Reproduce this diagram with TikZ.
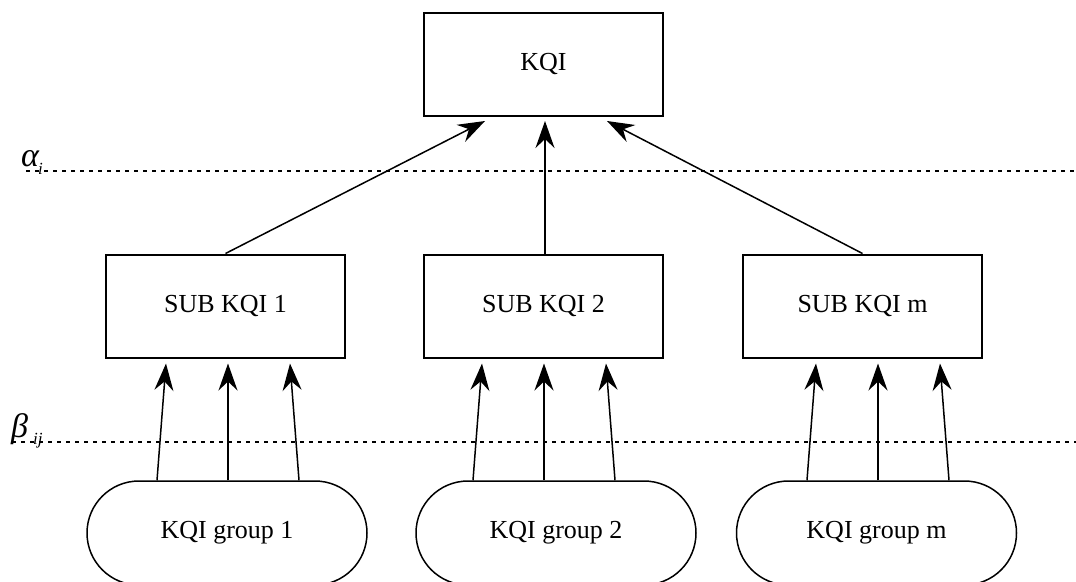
\documentclass[tikz,border=0pt]{standalone}
\usepackage{fontspec}
\setmainfont{Liberation Serif}
\usetikzlibrary{arrows.meta,shapes.misc,calc}

\begin{document}
\begin{tikzpicture}[x=1pt,y=-1pt,
  box/.style={draw,line width=2pt,minimum width=239pt,minimum height=103pt,
    inner sep=0pt,font=\fontsize{26}{30}\selectfont},
  group/.style={draw,line width=1.5pt,rounded rectangle,minimum width=280pt,
    minimum height=104pt,inner sep=0pt,font=\fontsize{26}{30}\selectfont},
  link/.style={line width=1.5pt,-{Stealth[length=27pt,width=19pt,inset=9pt]}},
  level/.style={line width=1.3pt,dash pattern=on 4pt off 5pt}]
  \useasboundingbox (0,0) rectangle (1076,581);

  % levels
  \draw[level] (26,171) -- (1076,171);
  \draw[level] (12,442) -- (1076,442);
  \node[anchor=base west,inner sep=0pt] (alpha) at (21,166)
    {\fontsize{34}{34}\selectfont\textit{α}};
  \node[anchor=base west,inner sep=0pt] (alphai) at (38,174)
    {\fontsize{17}{17}\selectfont\textit{i}};
  \node[anchor=base west,inner sep=0pt] (beta) at (11,437)
    {\fontsize{34}{34}\selectfont\textit{β}};
  \node[anchor=base west,inner sep=0pt] (betaij) at (33,444)
    {\fontsize{17}{17}\selectfont\textit{ij}};

  % boxes
  \node[box] (k)  at (543.5,64)  {KQI};
  \node[box] (s1) at (225.5,306) {SUB KQI 1};
  \node[box] (s2) at (543.5,306) {SUB KQI 2};
  \node[box] (s3) at (862.5,306) {SUB KQI m};

  % groups
  \node[group] (g1) at (227,533) {KQI group 1};
  \node[group] (g2) at (556,533) {KQI group 2};
  \node[group] (g3) at (876.5,533) {KQI group m};

  % arrow tips under the KQI box
  \coordinate (t1) at (485,121);
  \coordinate (t2) at (545,121);
  \coordinate (t3) at (607,121);
  \draw[link] (s1.north) -- (t1);
  \draw[link] (s2.north -| t2) -- (t2);
  \draw[link] (s3.north) -- (t3);

  % arrows from the groups
  \foreach \g/\s/\x in {g1/s1/228,g2/s2/544,g3/s3/878}{
    \coordinate (c) at (\x,0);
    \draw[link] ($(\g.north -| c)+(-71,0)$) -- ($(\s.south -| c)+(-62,5)$);
    \draw[link] (\g.north -| c) -- ($(\s.south -| c)+(0,5)$);
    \draw[link] ($(\g.north -| c)+(71,0)$) -- ($(\s.south -| c)+(62,5)$);
  }
\end{tikzpicture}
\end{document}
